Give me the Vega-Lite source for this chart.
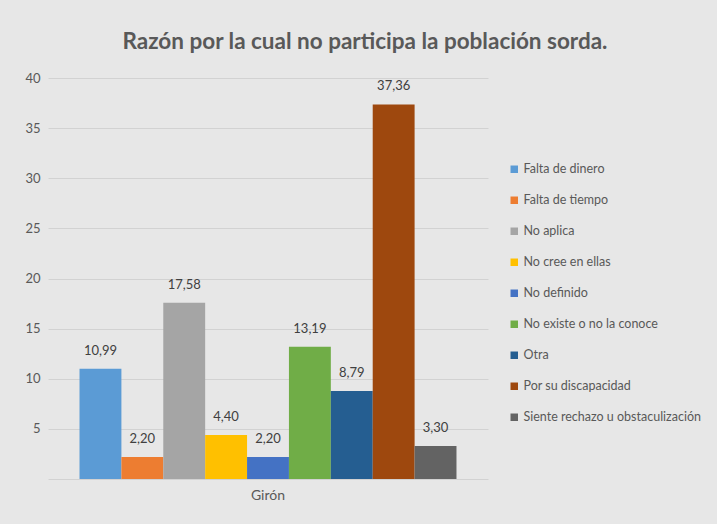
{
  "$schema": "https://vega.github.io/schema/vega-lite/v6.json",
  "width": 440,
  "height": 401,
  "autosize": {"type": "none"},
  "padding": {"left": 48, "top": 78, "right": 229, "bottom": 45},
  "background": "#e7e7e7",
  "config": {
    "locale": {"number": {"decimal": ",", "thousands": ".", "grouping": [3], "currency": ["", " €"]}},
    "view": {"stroke": null},
    "font": "Lato"
  },
  "title": {
    "text": "Razón por la cual no participa la población sorda.",
    "font": "Lato",
    "fontSize": 22.5,
    "fontWeight": "bold",
    "color": "#595959",
    "anchor": "middle",
    "dx": 97,
    "offset": 19
  },
  "data": {
    "values": [
      {"municipio": "Girón", "razon": "Falta de dinero", "valor": 10.99},
      {"municipio": "Girón", "razon": "Falta de tiempo", "valor": 2.20},
      {"municipio": "Girón", "razon": "No aplica", "valor": 17.58},
      {"municipio": "Girón", "razon": "No cree en ellas", "valor": 4.40},
      {"municipio": "Girón", "razon": "No definido", "valor": 2.20},
      {"municipio": "Girón", "razon": "No existe o no la conoce", "valor": 13.19},
      {"municipio": "Girón", "razon": "Otra", "valor": 8.79},
      {"municipio": "Girón", "razon": "Por su discapacidad", "valor": 37.36},
      {"municipio": "Girón", "razon": "Siente rechazo u obstaculización", "valor": 3.30}
    ]
  },
  "encoding": {
    "x": {
      "field": "municipio",
      "type": "nominal",
      "title": null,
      "scale": {"paddingInner": 0, "paddingOuter": 0.0836},
      "axis": {"labelAngle": 0, "ticks": false, "domain": false, "labelFontSize": 14, "labelColor": "#595959", "labelPadding": 9, "labelFont": "Lato"}
    },
    "xOffset": {
      "field": "razon",
      "type": "nominal",
      "scale": {"paddingInner": 0, "paddingOuter": 0}
    },
    "y": {
      "field": "valor",
      "type": "quantitative",
      "title": null,
      "scale": {"domain": [0, 40], "nice": false},
      "axis": {
        "values": [0, 5, 10, 15, 20, 25, 30, 35, 40],
        "labelExpr": "datum.value == 0 ? '' : datum.label",
        "ticks": false,
        "domain": false,
        "gridColor": "#d2d2d2",
        "gridWidth": 1,
        "labelFontSize": 13,
        "labelColor": "#595959",
        "labelPadding": 8,
        "labelFont": "Lato"
      }
    }
  },
  "layer": [
    {
      "mark": {"type": "bar"},
      "encoding": {
        "color": {
          "field": "razon",
          "type": "nominal",
          "title": null,
          "scale": {
            "domain": ["Falta de dinero", "Falta de tiempo", "No aplica", "No cree en ellas", "No definido", "No existe o no la conoce", "Otra", "Por su discapacidad", "Siente rechazo u obstaculización"],
            "range": ["#5b9bd5", "#ed7d31", "#a5a5a5", "#ffc000", "#4472c4", "#70ad47", "#255e91", "#9e480e", "#636363"]
          },
          "legend": {
            "orient": "none",
            "legendX": 460,
            "legendY": 85,
            "symbolType": "square",
            "symbolSize": 56,
            "symbolStrokeWidth": 0,
            "labelFontSize": 12.5,
            "labelColor": "#595959",
            "labelFont": "Lato",
            "rowPadding": 18,
            "labelOffset": 3,
            "labelLimit": 250
          }
        }
      }
    },
    {
      "mark": {"type": "text", "baseline": "bottom", "dy": -11, "fontSize": 13, "color": "#404040", "font": "Lato"},
      "encoding": {
        "text": {"field": "valor", "type": "quantitative", "format": ".2f"}
      }
    }
  ]
}
